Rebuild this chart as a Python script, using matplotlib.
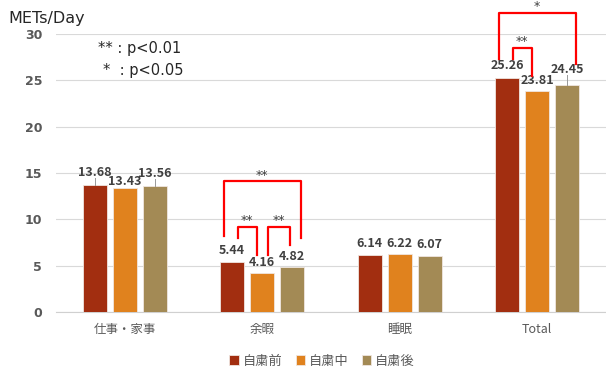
import numpy as np
import matplotlib.pyplot as plt

plt.rcParams['font.family'] = ['Noto Sans CJK JP', 'DejaVu Sans']

categories = ['仕事・家事', '余暇', '睡眠', 'Total']
series_names = ['自粛前', '自粛中', '自粛後']
before = [13.68, 5.44, 6.14, 25.26]
during = [13.43, 4.16, 6.22, 23.81]
after = [13.56, 4.82, 6.07, 24.45]
colors = ['#A22E10', '#E0821E', '#A38A55']
yticks = [0, 5, 10, 15, 20, 25, 30]

# (group, bar a, bar b, height of bracket top, drop end a, drop end b, mark)
brackets = [
    (1, 0, 2, 14.1, 8.2, 8.0, '**'),
    (1, 0, 1, 9.2, 8.0, 6.2, '**'),
    (1, 1, 2, 9.2, 6.2, 7.2, '**'),
    (3, 0, 2, 32.3, 27.3, 26.8, '*'),
    (3, 0, 1, 28.5, 27.3, 25.5, '**'),
]

# label lift above bar top for each bar; larger ones get a leader line
lifts = [
    [1.4, 0.7, 1.4],
    [1.2, 1.2, 1.2],
    [1.2, 1.2, 1.2],
    [1.3, 1.2, 1.7],
]

fig = plt.figure(figsize=(6.06, 3.71), dpi=100)
ax = fig.add_axes([56 / 606, 59 / 371, 550 / 606, 278 / 371])

x = np.arange(len(categories))
w = 0.175
step = 0.2185
data = [before, during, after]
for k, vals in enumerate(data):
    ax.bar(x + (k - 1) * step, vals, width=w, color=colors[k],
           edgecolor='#f0e6e0', linewidth=0.6, zorder=3, label=series_names[k])
    for i, v in enumerate(vals):
        xc = x[i] + (k - 1) * step
        lift = lifts[i][k]
        if lift > 1.35:
            ax.plot([xc, xc], [v, v + lift - 0.6], color='#999999', lw=0.7, zorder=4)
        ax.text(xc, v + lift, f'{v:.2f}', ha='center', va='center',
                fontsize=9, fontweight='bold', color='#404040', zorder=5)

for g, a, b, top, ya, yb, mark in brackets:
    xa = x[g] + (a - 1) * step - 0.06
    xb = x[g] + (b - 1) * step + 0.06
    if b - a == 1:
        xa = x[g] + (a - 1) * step + 0.04
        xb = x[g] + (b - 1) * step - 0.04
        if a == 1:
            xa = x[g] + (a - 1) * step + 0.04
            xb = x[g] + (b - 1) * step - 0.02
    ax.plot([xa, xa, xb, xb], [ya, top, top, yb], color='#FF0000', lw=1.6,
            clip_on=False, zorder=6)
    ax.text((xa + xb) / 2, top + 0.3, mark, ha='center', va='baseline',
            fontsize=9, color='#404040', clip_on=False, family='DejaVu Sans')

ax.set_xlim(-0.5, 3.5)
ax.set_ylim(0, 30)
ax.set_yticks(yticks)
ax.set_yticklabels([str(t) for t in yticks], fontsize=9, fontweight='bold',
                   color='#595959', family='DejaVu Sans')
ax.set_xticks(x)
ax.set_xticklabels(categories, fontsize=9, color='#595959')
ax.tick_params(axis='both', length=0)
ax.tick_params(axis='x', pad=8)
ax.tick_params(axis='y', pad=10)
ax.grid(axis='y', color='#d9d9d9', lw=0.8, zorder=0)
for s in ['top', 'right', 'left']:
    ax.spines[s].set_visible(False)
ax.spines['bottom'].set_color('#d0d0d0')

fig.text(8 / 606, 1 - 18 / 371, 'METs/Day', fontsize=11.5, color='#262626',
         va='center', family='DejaVu Sans')
fig.text(98 / 606, 1 - 49 / 371, '** : p<0.01', fontsize=10.5, color='#262626',
         va='center', family='DejaVu Sans')
fig.text(103 / 606, 1 - 71 / 371, '*  : p<0.05', fontsize=10.5, color='#262626',
         va='center', family='DejaVu Sans')

fig.legend(loc='center', bbox_to_anchor=(322 / 606, 1 - 361 / 371), ncol=3,
           frameon=False, fontsize=9.5, handlelength=0.7, handleheight=0.7,
           handletextpad=0.3, columnspacing=1.0, labelcolor='#595959')

fig.savefig('out.png', dpi=100)
